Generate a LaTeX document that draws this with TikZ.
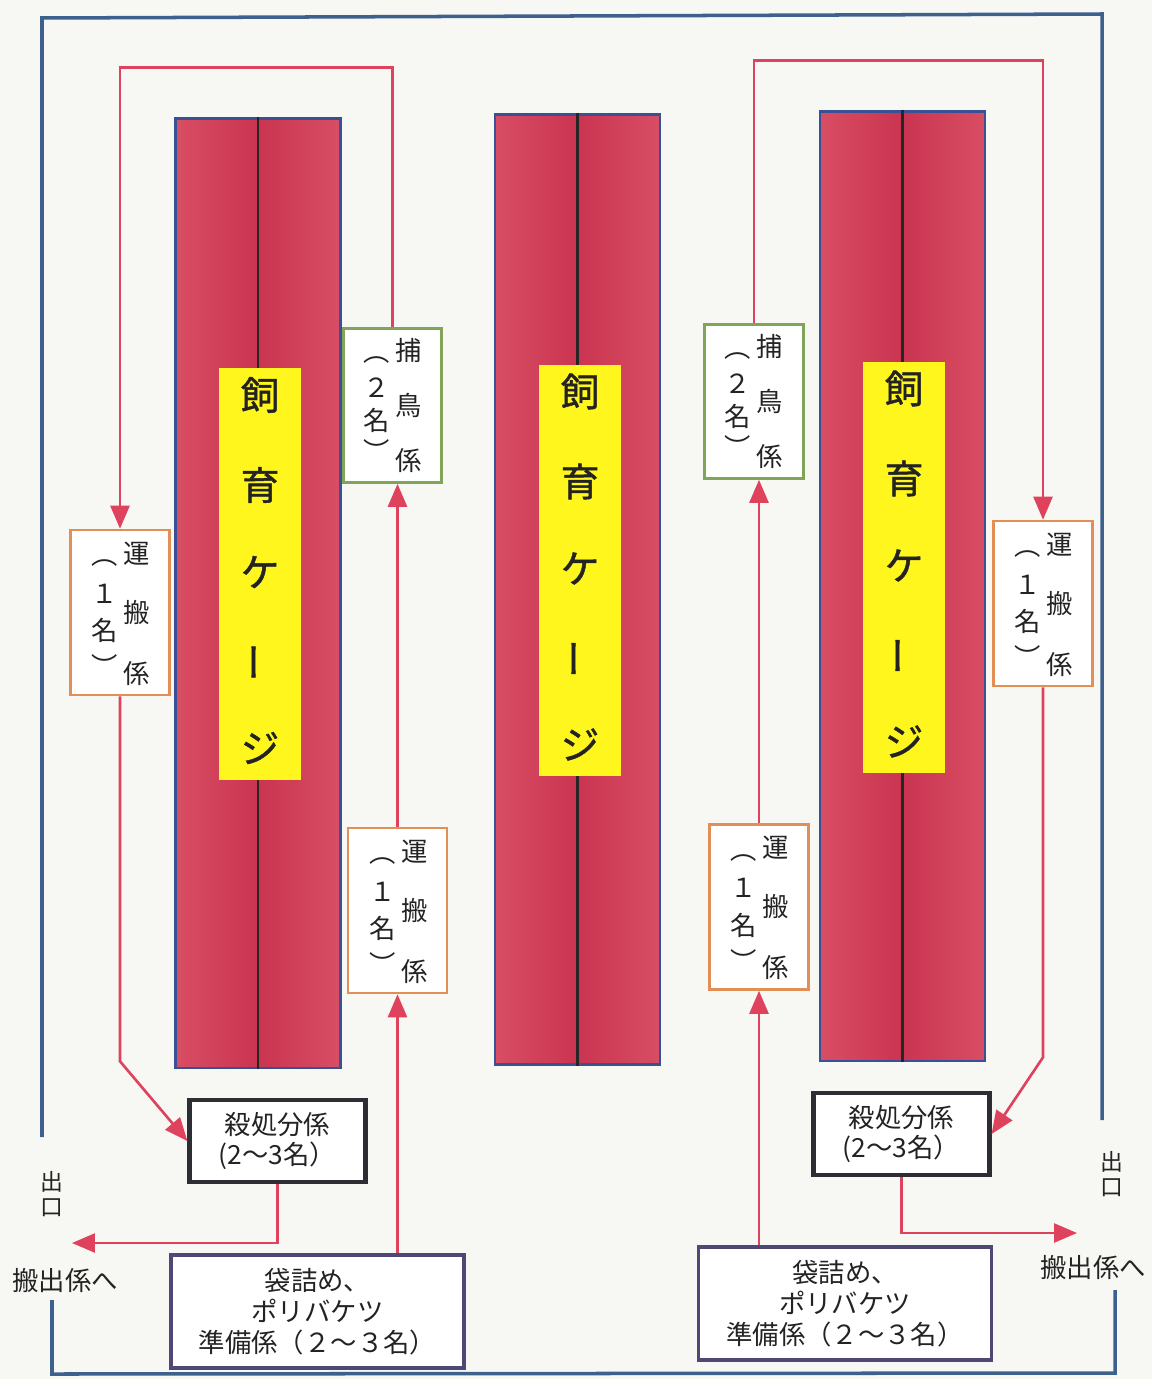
\documentclass[tikz,border=0pt]{standalone}
\usepackage{fontspec}
\setmainfont{Noto Sans CJK JP}
\newfontfamily\cagefont[FakeBold=1.2]{Noto Sans CJK JP}
\usetikzlibrary{arrows.meta}
\definecolor{paper}{RGB}{247,247,244}
\definecolor{redline}{RGB}{222,66,92}
\definecolor{frameblue}{RGB}{62,96,140}
\definecolor{cageblue}{RGB}{55,80,150}
\definecolor{cageL}{RGB}{216,78,100}
\definecolor{cageD}{RGB}{202,52,80}
\definecolor{ylw}{RGB}{255,246,30}
\definecolor{orng}{RGB}{226,142,84}
\definecolor{grn}{RGB}{128,165,88}
\definecolor{blk}{RGB}{45,45,52}
\definecolor{navy}{RGB}{78,72,118}
\definecolor{ink}{RGB}{35,35,35}
\newcommand\carrybox[3]{%
  \node[obox] (#1) at (#2,#3) {};
  \node[jt] (#1-a) at (#2+17,#3-59) {運};
  \node[jt] (#1-b) at (#2+17,#3) {搬};
  \node[jt] (#1-c) at (#2+17,#3+61) {係};
  \node[jt] (#1-d) at (#2-15,#3-49) {︵};
  \node[jt] (#1-e) at (#2-15,#3-19) {１};
  \node[jt] (#1-f) at (#2-15,#3+18) {名};
  \node[jt] (#1-g) at (#2-15,#3+53) {︶};
}
\newcommand\catchbox[3]{%
  \node[gbox] (#1) at (#2,#3) {};
  \node[jt] (#1-a) at (#2+16,#3-55) {捕};
  \node[jt] (#1-b) at (#2+16,#3) {鳥};
  \node[jt] (#1-c) at (#2+16,#3+55) {係};
  \node[jt] (#1-d) at (#2-16,#3-45) {︵};
  \node[jt] (#1-e) at (#2-16,#3-18) {２};
  \node[jt] (#1-f) at (#2-16,#3+15) {名};
  \node[jt] (#1-g) at (#2-16,#3+45) {︶};
}
\newcommand\cagelabel[3]{%
  \node[ybox] (#1) at (#2,#3) {};
  \node[ct] (#1-a) at (#2,#3-179) {飼};
  \node[ct] (#1-b) at (#2,#3-89) {育};
  \node[ct] (#1-c) at (#2,#3-2) {ケ};
  \node[ct,rotate=90] (#1-d) at (#2,#3+88) {ー};
  \node[ct] (#1-e) at (#2,#3+174) {ジ};
}
\begin{document}
\begin{tikzpicture}[x=0.02cm,y=-0.02cm,
  jt/.style={text=ink,font=\fontsize{15}{17}\selectfont,inner sep=0pt},
  et/.style={text=ink,font=\fontsize{13}{15}\selectfont,inner sep=0pt},
  ct/.style={text=ink,font=\cagefont\fontsize{22}{24}\selectfont,inner sep=0pt},
  redarrow/.style={draw=redline,line width=1.5pt,-{Triangle[length=0.46cm,width=0.38cm]}},
  frameline/.style={draw=frameblue,line width=2pt},
  cage/.style={draw=cageblue,line width=1.6pt,left color=cageL,right color=cageL,middle color=cageD,
    minimum width=3.3cm,minimum height=19cm,inner sep=0pt},
  midline/.style={draw=black!85,line width=1.6pt},
  ybox/.style={fill=ylw,minimum width=1.64cm,minimum height=8.24cm,inner sep=0pt},
  obox/.style={draw=orng,fill=white,line width=1.5pt,minimum width=1.98cm,minimum height=3.3cm,inner sep=0pt},
  gbox/.style={draw=grn,fill=white,line width=1.5pt,minimum width=1.97cm,minimum height=3.08cm,inner sep=0pt},
  kbox/.style={draw=blk,fill=white,line width=2.4pt,minimum width=3.52cm,minimum height=1.64cm,
    align=center,text=ink,font=\fontsize{15}{17.5}\selectfont,inner sep=0pt},
  pbox/.style={draw=navy,fill=white,line width=2pt,minimum width=5.86cm,minimum height=2.26cm,
    align=center,text=ink,font=\fontsize{15}{17.6}\selectfont,inner sep=0pt}
]
\useasboundingbox[fill=paper] (0,0) rectangle (1152,1379);

% outer frame
\draw[frameline] (42,1137) -- (42,18) -- (1102,14) -- (1102,1120);
\draw[frameline] (1115,1290) -- (1115,1373) -- (52,1374) -- (52,1300);

% cages
\node[cage] (c1) at (258,593) {};
\node[cage] (c2) at (577.5,589.5) {};
\node[cage] (c3) at (902.5,586) {};
\draw[midline] (c1.north) -- (c1.south);
\draw[midline] (c2.north) -- (c2.south);
\draw[midline] (c3.north) -- (c3.south);
\cagelabel{y1}{260}{574}
\cagelabel{y2}{580}{570.5}
\cagelabel{y3}{904}{567.5}

% staff boxes
\carrybox{ob1}{120}{612.5}
\catchbox{gb1}{392.5}{405.5}
\carrybox{ob2}{397.5}{910.5}
\catchbox{gb2}{754}{401.5}
\carrybox{ob3}{759}{907}
\carrybox{ob4}{1043}{603.5}

\node[kbox] (kb1) at (277.5,1141) {殺処分係\\(2〜3名）};
\node[kbox] (kb2) at (901.5,1134) {殺処分係\\(2〜3名）};
\node[pbox] (pb1) at (317.5,1311.5) {袋詰め、\\ポリバケツ\\準備係（２〜３名）};
\node[pbox] (pb2) at (845,1303.5) {袋詰め、\\ポリバケツ\\準備係（２〜３名）};

% exits
\node[et] (exl1) at (52,1182) {出};
\node[et] (exl2) at (52,1208) {口};
\node[jt] (exl3) at (65,1281) {搬出係へ};
\node[et] (exr1) at (1112,1162) {出};
\node[et] (exr2) at (1112,1188) {口};
\node[jt] (exr3) at (1093,1268) {搬出係へ};
\coordinate (ex1) at (72,1243);
\coordinate (ex2) at (1077,1233);

% left flow
\draw[redarrow] (gb1.north) -- ++(0,-260) -| (ob1.north);
\draw[redarrow] (ob1.south) -- ++(0,365) -- (kb1.west);
\draw[redarrow] (kb1.south) |- (ex1);
\draw[redarrow] (pb1.north -| ob2.south) -- (ob2.south);
\draw[redarrow] (ob2.north) -- (ob2.north |- gb1.south);

% right flow
\draw[redarrow] (pb2.north -| ob3.south) -- (ob3.south);
\draw[redarrow] (ob3.north) -- (ob3.north |- gb2.south);
\draw[redarrow] (gb2.north) -- ++(0,-263) -| (ob4.north);
\draw[redarrow] (ob4.south) -- ++(0,370) -- (kb2.east);
\draw[redarrow] (kb2.south) |- (ex2);
\end{tikzpicture}
\end{document}
